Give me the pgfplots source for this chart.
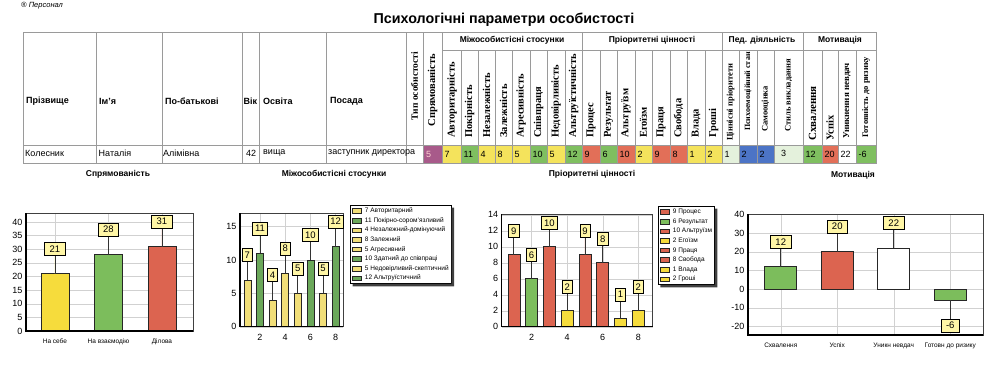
\documentclass[border=0pt]{standalone}
\usepackage{fontspec}
\setmainfont{Liberation Sans}
\newfontfamily\serifb{Liberation Serif}
\usepackage{pgfplots}
\pgfplotsset{compat=1.18}

\definecolor{cy}{HTML}{F4E35C}
\definecolor{cg}{HTML}{7FBF60}
\definecolor{cr}{HTML}{E26F58}
\definecolor{cb}{HTML}{4C74C6}
\definecolor{cpg}{HTML}{E4F1DC}
\definecolor{cpu}{HTML}{A85A8A}
\definecolor{labf}{HTML}{FFF6A6}
\definecolor{by}{HTML}{F6DC3C}
\definecolor{bg}{HTML}{7CBD5C}
\definecolor{br}{HTML}{DC6450}
\definecolor{py}{HTML}{F1DE78}
\definecolor{pg}{HTML}{6BA85A}
\definecolor{tl}{HTML}{9A9A9A}

\tikzset{val/.style={inner sep=0pt, font=\fontsize{9}{10}\selectfont},
  hd/.style={inner sep=0pt, anchor=west, font=\bfseries\fontsize{9}{10}\selectfont},
  grp/.style={inner sep=0pt, font=\bfseries\fontsize{8.5}{10}\selectfont}}
\newcommand\rh[4]{\node[rotate=90,anchor=west,inner sep=0pt,font=\serifb\bfseries\fontsize{#1}{#1}\selectfont] at (#2,#3) {#4};}
\newcommand\legshadow[1]{\fill[black!75] ([yshift=-2.5pt]#1.north east) -- ([xshift=2.5pt,yshift=-2.5pt]#1.north east) -- ([xshift=2.5pt,yshift=-2.5pt]#1.south east) -- ([xshift=2.5pt,yshift=-2.5pt]#1.south west) -- ([xshift=2.5pt]#1.south west) -- (#1.south east) -- cycle;}

\pgfplotsset{
 mychart/.style={anchor=south west, scale only axis, ybar, clip=false, enlargelimits=false,
   axis line style={black!75, line width=0.5pt},
   grid=major, major grid style={black!18, line width=0.4pt},
   tick style={draw=none}, tick label style={font=\fontsize{9}{10}\selectfont},
   /pgf/number format/assume math mode=true,
   after end axis/.code={\draw[black, line width=1.3pt] (rel axis cs:0,1) -- (rel axis cs:0,0) -- (rel axis cs:1,0);}},
 bb/.style={bar shift=0pt, draw=black!85, line width=0.6pt,
   legend image code/.code={\draw[##1, line width=0.5pt] (0pt,-2.3pt) rectangle (9pt,2.3pt);}},
 labbox/.style n args={3}{nodes near coords,
   every node near coord/.append style={anchor=center, yshift=#1, fill=labf, draw=black, line width=0.6pt,
     inner xsep=#2, inner ysep=0pt, minimum height=13pt, text=black, font=\fontsize{9.5}{10}\selectfont},
   error bars/y dir=plus, error bars/y fixed=#3, error bars/error mark=none,
   error bars/error bar style={draw=black!80, line width=0.7pt}},
 labboxneg/.style n args={3}{nodes near coords,
   every node near coord/.append style={anchor=center, yshift=-#1, fill=labf, draw=black, line width=0.6pt,
     inner xsep=#2, inner ysep=0pt, minimum height=13pt, text=black, font=\fontsize{9.5}{10}\selectfont},
   error bars/y dir=minus, error bars/y fixed=#3, error bars/error mark=none,
   error bars/error bar style={draw=black!80, line width=0.7pt}},
 myleg/.style={legend style={anchor=north west, draw=black, line width=0.7pt, fill=white,
   font=\fontsize{6.5}{7}\selectfont, inner xsep=2pt, inner ysep=1.5pt, row sep=1.6pt, column sep=2.5pt,
   nodes={inner sep=0.6pt, text height=5.2pt, text depth=1.6pt}, cells={anchor=west}}},
}

\begin{document}
\begin{tikzpicture}
\useasboundingbox (0,0) rectangle (993pt,368pt);
\begin{scope}[x=1pt,y=-1pt,yshift=368pt]
\node[anchor=west,inner sep=0pt,font=\itshape\fontsize{7.5}{8}\selectfont] at (21,5.5) {® Персонал};
\node[inner sep=0pt,font=\bfseries\fontsize{14.3}{16}\selectfont] at (504,20) {Психологічні параметри особистості};
% value cells
\fill[cpu] (423,145) rectangle (442,163);
\node[val,anchor=west,text=pink!70] at (426,154) {5};
\foreach \xa/\xb/\v/\c in {442/461/7/cy, 461/478/11/cg, 478/495/4/cy, 495/512/8/cy, 512/530/5/cy, 530/547/10/cg, 547/565/5/cy, 565/582/12/cg,
  582/600/9/cr, 600/617/6/cg, 617/635/10/cr, 635/652/2/cy, 652/670/9/cr, 670/687/8/cr, 687/705/1/cy, 705/722/2/cy,
  722/739/1/cpg, 739/757/2/cb, 757/774/2/cb,
  803/822/12/cg, 822/838/20/cr, 838/856/22/white, 856/876/-6/cg} {
  \fill[\c] (\xa,145) rectangle (\xb,163);
  \node[val,anchor=west] at (\xa+2.5,154) {\v};
}
\fill[cpg] (774,145) rectangle (803,163);
\node[val,anchor=west] at (781,153) {3};
% lines
\draw[tl, line width=0.6pt] (23,32) rectangle (876,163);
\draw[tl, line width=0.6pt] (23,145) -- (876,145);
\draw[tl, line width=0.6pt] (442,50) -- (876,50);
\foreach \x in {96,162,242,259,326,406,423,442,582,722,803} \draw[tl, line width=0.6pt] (\x,32) -- (\x,163);
\foreach \x in {461,478,495,512,530,547,565,600,617,635,652,670,687,705,739,757,774,822,838,856} \draw[tl, line width=0.6pt] (\x,50) -- (\x,163);
% header texts
\node[hd] at (26,101) {Прізвище};
\node[hd] at (99,101) {Ім'я};
\node[hd] at (165,101) {По-батькові};
\node[hd] at (243.5,101) {Вік};
\node[hd] at (263,101) {Освіта};
\node[hd] at (330,101) {Посада};
% row values
\node[val,anchor=west] at (25,153) {Колесник};
\node[val,anchor=west] at (98.5,153) {Наталія};
\node[val,anchor=west] at (163,153) {Алімівна};
\node[val,anchor=west] at (246,153) {42};
\node[val,anchor=west] at (263,153) {вища};
\node[val,anchor=west] at (328,153) {заступник директора};
% group headers
\node[grp] at (512,40) {Міжособистісні стосунки};
\node[grp] at (652,40) {Пріоритетні цінності};
\node[grp] at (762,40) {Пед. діяльність};
\node[grp] at (840,40) {Мотивація};
% rotated headers
\node[rotate=90,inner sep=0pt,font=\serifb\bfseries\fontsize{9.5}{9.5}\selectfont] at (414.5,86) {Тип особистості};
\node[rotate=90,inner sep=0pt,font=\serifb\bfseries\fontsize{10.5}{10.5}\selectfont] at (432.5,90) {Спрямованість};
\rh{10.5}{452}{138}{Авторитарність}
\rh{10.5}{469.5}{138}{Покірність}
\rh{10.5}{486.5}{138}{Незалежність}
\rh{10.5}{503.5}{138}{Залежність}
\rh{10.5}{521}{138}{Агресивність}
\rh{10.5}{538.5}{138}{Співпраця}
\rh{10.5}{556}{138}{Недовірливість}
\rh{10.5}{573.5}{138}{Альтруїстичність}
\rh{10.5}{591}{138}{Процес}
\rh{10.5}{608.5}{138}{Результат}
\rh{10.5}{626}{138}{Альтруїзм}
\rh{10.5}{643.5}{138}{Егоїзм}
\rh{10.5}{661}{138}{Праця}
\rh{10.5}{678.5}{138}{Свобода}
\rh{10.5}{696}{138}{Влада}
\rh{10.5}{713.5}{138}{Гроші}
\rh{8.5}{730.5}{141}{Ціннісні пріоритети}
\rh{8}{748}{131}{Психоемоційний стан}
\rh{8.5}{765.5}{132}{Самооцінка}
\rh{8.5}{788.5}{132}{Стиль викладання}
\rh{11}{812.5}{141}{Схвалення}
\rh{10.5}{830}{141}{Успіх}
\rh{9}{847}{139}{Уникнення невдач}
\rh{8.5}{866}{138}{Готовність до ризику}
% section labels
\node[grp] at (118,174) {Спрямованість};
\node[grp] at (334,174) {Міжособистісні стосунки};
\node[grp] at (592,174) {Пріоритетні цінності};
\node[grp] at (853,175) {Мотивація};
\end{scope}

% Chart 1
\begin{axis}[mychart, at={(26pt,37pt)}, width=167pt, height=118pt,
  xmin=-0.54, xmax=2.58, ymin=0, ymax=43.3, ytick={0,5,...,40}, xtick={0,1,2},
  xticklabels={На себе,На взаємодію,Ділова}, xticklabel style={font=\fontsize{6.5}{7}\selectfont},
  bar width=28pt]
\addplot[bb, fill=by, labbox={25pt}{5pt}{6.79}] coordinates {(0,21)};
\addplot[bb, fill=bg, labbox={25pt}{5pt}{6.79}] coordinates {(1,28)};
\addplot[bb, fill=br, labbox={25pt}{5pt}{6.79}] coordinates {(2,31)};
\end{axis}

% Chart 2
\begin{axis}[mychart, at={(240pt,41.3pt)}, width=103pt, height=113.4pt,
  xmin=0.42, xmax=8.58, ymin=0, ymax=17, ytick={0,5,10,15}, xtick={2,4,6,8},
  bar width=7pt, myleg, legend style={at={(1.068,1.073)}, name=legA}]
\addplot[bb, fill=py, labbox={25pt}{2.5pt}{2.77}] coordinates {(1,7)};
\addlegendentry{7 Авторитарний}
\addplot[bb, fill=pg, labbox={25pt}{2.5pt}{2.77}] coordinates {(2,11)};
\addlegendentry{11 Покірно-сором’язливий}
\addplot[bb, fill=py, labbox={25pt}{2.5pt}{2.77}] coordinates {(3,4)};
\addlegendentry{4 Незалежний-домінуючий}
\addplot[bb, fill=py, labbox={25pt}{2.5pt}{2.77}] coordinates {(4,8)};
\addlegendentry{8 Залежний}
\addplot[bb, fill=py, labbox={25pt}{2.5pt}{2.77}] coordinates {(5,5)};
\addlegendentry{5 Агресивний}
\addplot[bb, fill=pg, labbox={25pt}{2.5pt}{2.77}] coordinates {(6,10)};
\addlegendentry{10 Здатний до співпраці}
\addplot[bb, fill=py, labbox={25pt}{2.5pt}{2.77}] coordinates {(7,5)};
\addlegendentry{5 Недовірливий-скептичний}
\addplot[bb, fill=pg, labbox={25pt}{2.5pt}{2.77}] coordinates {(8,12)};
\addlegendentry{12 Альтруїстичний}
\end{axis}
\legshadow{legA}

% Chart 3
\begin{axis}[mychart, at={(501.7pt,41.3pt)}, width=151pt, height=112.7pt,
  xmin=0.32, xmax=8.81, ymin=0, ymax=14.1, ytick={0,2,...,14}, xtick={2,4,6,8},
  bar width=12pt, myleg, legend style={at={(1.035,1.071)}, name=legB}]
\addplot[bb, fill=br, labbox={24pt}{2.5pt}{2.19}] coordinates {(1,9)};
\addlegendentry{9 Процес}
\addplot[bb, fill=bg, labbox={24pt}{2.5pt}{2.19}] coordinates {(2,6)};
\addlegendentry{6 Результат}
\addplot[bb, fill=br, labbox={24pt}{2.5pt}{2.19}] coordinates {(3,10)};
\addlegendentry{10 Альтруїзм}
\addplot[bb, fill=by, labbox={24pt}{2.5pt}{2.19}] coordinates {(4,2)};
\addlegendentry{2 Егоїзм}
\addplot[bb, fill=br, labbox={24pt}{2.5pt}{2.19}] coordinates {(5,9)};
\addlegendentry{9 Праця}
\addplot[bb, fill=br, labbox={24pt}{2.5pt}{2.19}] coordinates {(6,8)};
\addlegendentry{8 Свобода}
\addplot[bb, fill=by, labbox={24pt}{2.5pt}{2.19}] coordinates {(7,1)};
\addlegendentry{1 Влада}
\addplot[bb, fill=by, labbox={24pt}{2.5pt}{2.19}] coordinates {(8,2)};
\addlegendentry{2 Гроші}
\end{axis}
\legshadow{legB}

% Chart 4
\begin{axis}[mychart, at={(748pt,33pt)}, width=235pt, height=120.7pt,
  xmin=-0.58, xmax=3.58, ymin=-24.5, ymax=40, ytick={-20,-10,...,40}, xtick={0,1,2,3},
  xticklabels={Схвалення,Успіх,Уникн невдач,Готовн до ризику}, xticklabel style={font=\fontsize{6.5}{7}\selectfont},
  bar width=32pt]
\addplot[bb, fill=bg, labbox={25pt}{5pt}{9.89}] coordinates {(0,12)};
\addplot[bb, fill=br, labbox={25pt}{5pt}{9.89}] coordinates {(1,20)};
\addplot[bb, fill=white, labbox={25pt}{5pt}{9.89}] coordinates {(2,22)};
\addplot[bb, fill=bg, labboxneg={25pt}{5pt}{9.89}] coordinates {(3,-6)};
\end{axis}
\end{tikzpicture}
\end{document}
